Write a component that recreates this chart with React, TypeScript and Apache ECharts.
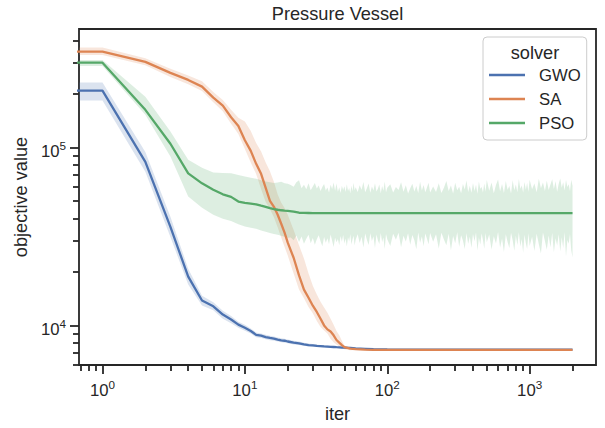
import React, { useEffect, useRef } from "react";
import * as echarts from "echarts";

// ---- data ----
// 0.5 stands for iteration 0, which a log axis cannot place (it is clipped off the left edge)
const ITERS = [0.5, 1, 2, 3, 4, 5, 6, 7, 8, 9, 10, 11, 12, 13, 14, 15, 16, 17, 18, 19, 20,
  22, 24, 26, 28, 30, 32, 34, 36, 38, 40, 42, 44, 46, 48, 50, 55, 60, 70, 80, 100, 200, 500, 1000, 2000];

const GWO_MEAN = [209000, 209000, 83000, 35800, 18800, 13800, 12800, 11500, 10800, 10100, 9700,
  9300, 8850, 8750, 8600, 8500, 8430, 8330, 8250, 8200, 8120,
  8000, 7930, 7830, 7750, 7720, 7680, 7650, 7620, 7600, 7580, 7560, 7540, 7530, 7510, 7500,
  7470, 7420, 7390, 7360, 7340, 7310, 7300, 7300, 7300];
const GWO_LOW = [184000, 184000, 73000, 31400, 17000, 12950, 12150, 10900, 10300, 9700, 9330,
  9000, 8580, 8490, 8350, 8260, 8200, 8110, 8040, 8000, 7930,
  7820, 7760, 7680, 7610, 7590, 7560, 7540, 7520, 7500, 7490, 7480, 7470, 7460, 7450, 7440,
  7420, 7380, 7360, 7340, 7320, 7290, 7285, 7285, 7285];
const GWO_HIGH = [232000, 232000, 94500, 40800, 20800, 14700, 13500, 12100, 11300, 10500, 10100,
  9620, 9130, 9020, 8860, 8750, 8670, 8560, 8470, 8410, 8320,
  8190, 8110, 8000, 7900, 7860, 7810, 7770, 7730, 7700, 7680, 7650, 7620, 7600, 7570, 7560,
  7520, 7460, 7420, 7380, 7360, 7320, 7315, 7315, 7315];

const SA_MEAN = [346000, 346000, 303000, 263000, 240000, 220000, 191000, 172000, 148000, 132000, 110000,
  95800, 81000, 71200, 59400, 50200, 46400, 41900, 37300, 33200, 29200,
  24000, 19100, 15900, 14300, 12900, 11900, 10900, 10000, 9500, 9250, 8800, 8280, 8000, 7750, 7550,
  7400, 7350, 7300, 7290, 7280, 7280, 7280, 7280, 7280];
const SA_LOW = [331000, 331000, 290000, 249000, 227000, 208000, 180000, 160000, 136000, 119000, 98000,
  82500, 71000, 58500, 49400, 45200, 40500, 35600, 31200, 27600, 24700,
  19600, 15900, 14200, 12700, 11700, 10600, 9800, 9350, 9000, 8400, 8050, 7800, 7600, 7450, 7350,
  7260, 7270, 7260, 7260, 7260, 7260, 7260, 7260, 7260];
const SA_HIGH = [365000, 365000, 318000, 277000, 254000, 236000, 205000, 185000, 163000, 147000, 140000,
  124000, 106000, 95000, 82500, 73500, 64000, 54500, 49000, 45700, 41900,
  34400, 28200, 23800, 19600, 16700, 14900, 13600, 12600, 11800, 10900, 10100, 9300, 8800, 8200, 7700,
  7450, 7380, 7320, 7300, 7300, 7300, 7300, 7300, 7300];

const PSO_MEAN = [300000, 300000, 163000, 105000, 71600, 62900, 57900, 54600, 52800, 49700, 48900,
  48400, 47900, 47100, 46400, 45600, 45100, 44700, 44400, 44200, 44100,
  43600, 43000, 42900, 42850, 42800, 42800, 42800, 42800, 42800, 42800, 42800, 42800, 42800, 42800, 42800,
  42800, 42800, 42800, 42800, 42800, 42800, 42800, 42800, 42800];

const PSO_BAND_ITERS = [0.5, 1, 2, 3, 4, 5, 6, 7, 8, 9, 10, 11, 12, 13, 14, 15, 16, 17, 18, 19, 20,
  21, 22, 23, 24, 25, 26, 27, 28, 29, 30, 31, 32, 33, 34, 35, 36, 37, 38, 39, 40,
  41, 42, 43, 44, 45, 46, 47, 48, 49, 50, 51, 52, 53, 54, 55, 56, 57, 58, 59, 60,
  62, 64, 66, 68, 70, 72, 74, 76, 78, 80, 82, 84, 86, 88, 90, 92, 94, 96, 98, 100,
  105, 110, 115, 120, 125, 130, 135, 140, 145, 150, 155, 160, 165, 170, 175, 180, 185, 190, 195, 200,
  210, 220, 230, 240, 250, 260, 270, 280, 290, 300, 310, 320, 330, 340, 350, 360, 370, 380, 390, 400,
  410, 420, 430, 440, 450, 460, 470, 480, 490, 500,
  520, 540, 560, 580, 600, 620, 640, 660, 680, 700, 720, 740, 760, 780, 800, 820, 840, 860, 880, 900,
  920, 940, 960, 980, 1000,
  1040, 1080, 1120, 1160, 1200, 1240, 1280, 1320, 1360, 1400, 1440, 1480, 1520, 1560, 1600, 1640, 1680,
  1720, 1760, 1800, 1840, 1880, 1920, 1960, 2000];

const PSO_HIGH = [311000, 311000, 193000, 123000, 85300, 76900, 72400, 72000, 71800, 70200, 68700,
  67700, 66700, 65500, 64400, 63800, 63100, 63600, 64200, 63000, 62500,
  61500, 60200, 63800, 65500, 59000, 61800, 58200, 62900, 57600, 60400, 63100, 58800, 61200, 56900, 60100, 62400, 57300, 59600, 55800, 61700,
  58400, 63600, 57100, 62800, 56500, 59900, 55600, 61000, 57800, 60600, 56200, 62200, 57000, 59300, 55400, 60900, 56800, 63400, 57500, 59800,
  56300, 61400, 57900, 64100, 56000, 59200, 62700, 55700, 60300, 57400, 63000, 56600, 58900, 61900, 55300, 60800, 57200, 64500, 56100, 59500,
  62100, 55900, 60000, 57700, 63900, 56400, 61300, 55200, 59100, 62600, 56700, 60700, 55500, 64200, 57300, 61600, 56000, 59700, 63300, 55800,
  60400, 56200, 62900, 55600, 59400, 64800, 56900, 61100, 55100, 63500, 57600, 60200, 55400, 62300, 58100, 65200, 56300, 60900, 55700, 63100,
  57000, 61800, 55000, 64400, 58600, 60000, 55900, 62700, 56600, 65700,
  57200, 63600, 55300, 61500, 66100, 56800, 62400, 55600, 64900, 58000, 60800, 55200, 65400, 57500, 62000, 56100, 66500, 58700, 61200, 55800,
  64000, 57900, 63200, 56400, 65900,
  58300, 62800, 56000, 66800, 59000, 63700, 56900, 65100, 57700, 61900, 66300, 58500, 64600, 56500, 62500, 67000, 59400,
  63900, 57300, 65600, 60100, 62200, 57000, 66000, 61000];

const PSO_LOW = [287000, 287000, 153000, 89000, 53000, 45800, 41900, 39800, 38700, 37000, 36000,
  35400, 34900, 34200, 33600, 33100, 32700, 32300, 31900, 31500, 31100,
  31200, 30100, 32000, 29400, 31600, 28800, 30700, 32300, 29000, 31000, 28400, 30500, 32100, 29700, 27900, 31400, 29200, 30900, 28600, 32400,
  29900, 27600, 31100, 29300, 30600, 28200, 31800, 29500, 32200, 28900, 30800, 27800, 31300, 29600, 32500, 28500, 30400, 31900, 28100, 30300,
  32600, 29100, 31500, 27400, 32900, 30200, 28300, 33000, 29800, 31700, 27200, 32400, 30000, 28700, 33100, 29400, 31200, 26900, 32700, 30500,
  28000, 32800, 30300, 33200, 27500, 31900, 29600, 33000, 28400, 32200, 30100, 26800, 33300, 29200, 31600, 27900, 32900, 30700, 28600, 33100,
  29500, 32500, 27100, 33200, 30400, 28200, 32800, 26500, 31800, 29000, 33400, 27700, 32100, 30000, 26900, 33000, 28800, 31500, 27300, 32700,
  29700, 33300, 26400, 31200, 28500, 32900, 30200, 27000, 33100, 29300,
  32400, 26700, 31700, 28900, 33500, 27400, 30800, 25900, 32600, 29400, 27200, 33200, 30100, 26300, 31900, 28300, 33400, 27800, 30600, 25600,
  32300, 29100, 26900, 33000, 28000,
  31500, 26200, 32800, 28600, 25400, 33300, 29800, 26600, 32000, 27500, 33100, 25800, 30900, 28100, 32500, 26000, 31300,
  27200, 33400, 24500, 30200, 28800, 32700, 26400, 24200];

const SOLVERS = ["GWO", "SA", "PSO"];
const X_MAJOR = [1, 10, 100, 1000];
const X_MINOR = [0.7, 0.8, 0.9, 2, 3, 4, 5, 6, 7, 8, 9, 20, 30, 40, 50, 60, 70, 80, 90,
  200, 300, 400, 500, 600, 700, 800, 900, 2000];
const Y_MAJOR = [10000, 100000];
const Y_MINOR = [6000, 7000, 8000, 9000, 20000, 30000, 40000, 50000, 60000, 70000, 80000, 90000,
  200000, 300000, 400000];

// ---- style ----
const FONT = "'Liberation Sans', Arial, sans-serif";
const INK = "#262626";
const COLORS = ["#4c72b0", "#dd8452", "#55a868"];
const BAND = ["rgba(76,114,176,0.2)", "rgba(221,132,82,0.2)", "rgba(85,168,104,0.2)"];
const X_MIN = 0.684, X_MAX = 2924;
const Y_MIN = 5990, Y_MAX = 464000;
const LABEL_SIZE = 18.2;
const TICK_SIZE = 16.7;

const pow10Label = (v: number) => `{b|10}{s|${Math.round(Math.log10(v))}}`;
const RICH = {
  b: { fontSize: TICK_SIZE, fontFamily: FONT, color: INK, lineHeight: 24 },
  s: { fontSize: 11.7, fontFamily: FONT, color: INK, lineHeight: 11, verticalAlign: "top" as const },
};

function band(name: string, iters: number[], low: number[], high: number[], color: string) {
  return {
    name: name + " CI", type: "custom", coordinateSystem: "cartesian2d",
    silent: true, z: 1, clip: true,
    encode: { x: 0, y: [1, 2] },
    data: iters.map((x, i) => [x, low[i], high[i]]),
    renderItem: (params: any, api: any) => {
      if (params.dataIndex !== 0) return null;
      const pts: number[][] = [];
      for (let i = 0; i < iters.length; i++) pts.push(api.coord([iters[i], high[i]]));
      for (let i = iters.length - 1; i >= 0; i--) pts.push(api.coord([iters[i], low[i]]));
      return { type: "polygon", shape: { points: pts }, style: { fill: color, stroke: "none" } };
    },
  };
}

function meanLine(name: string, iters: number[], vals: number[], color: string) {
  return {
    name, type: "line", symbol: "none", z: 3, color,
    lineStyle: { color, width: 2.3 },
    data: iters.map((x, i) => [x, vals[i]]),
  };
}

export default function App() {
  const ref = useRef<HTMLDivElement>(null);
  useEffect(() => {
    const chart = echarts.init(ref.current!, null, { renderer: "svg" });
    const tickStyle = { color: INK, width: 1.8 };
    const option: any = {
      animation: false,
      backgroundColor: "#ffffff",
      grid: {
        left: 79, top: 29, right: 9, bottom: 63, show: true,
        borderColor: INK, borderWidth: 1.8, backgroundColor: "transparent",
      },
      graphic: [
        {
          type: "text", x: 337.5, y: 13.5, z: 100,
          style: { text: "Pressure Vessel", fontSize: LABEL_SIZE, fontFamily: FONT, fill: INK, align: "center", verticalAlign: "middle" },
        },
        {
          type: "text", x: 535, y: 53, z: 100,
          style: { text: "solver", fontSize: LABEL_SIZE, fontFamily: FONT, fill: INK, align: "center", verticalAlign: "middle" },
        },
      ],
      legend: {
        data: SOLVERS.map((name) => ({ name, icon: "rect" })),
        orient: "vertical", left: 483, top: 37,
        padding: [29, 6, 8, 6], itemWidth: 36, itemHeight: 2.3, itemGap: 6,
        backgroundColor: "rgba(255,255,255,0.8)", borderColor: "#cccccc", borderWidth: 1, borderRadius: 4,
        selectedMode: false,
        textStyle: { fontSize: TICK_SIZE, fontFamily: FONT, color: INK, lineHeight: 18, padding: [0, 0, 0, 9] },
      },
      xAxis: [
        {
          type: "log", logBase: 10, min: X_MIN, max: X_MAX, position: "bottom",
          axisLine: { show: false }, splitLine: { show: false },
          axisTick: { show: true, length: 9, lineStyle: tickStyle, customValues: X_MAJOR },
          axisLabel: { customValues: X_MAJOR, formatter: pow10Label, rich: RICH, margin: 13 },
          name: "iter", nameLocation: "middle", nameGap: 40,
          nameTextStyle: { fontSize: LABEL_SIZE, fontFamily: FONT, color: INK },
        },
        {
          type: "log", logBase: 10, min: X_MIN, max: X_MAX, position: "bottom",
          axisLine: { show: false }, splitLine: { show: false },
          axisTick: { show: true, length: 6, lineStyle: tickStyle, customValues: X_MINOR },
          axisLabel: { show: false },
        },
      ],
      yAxis: [
        {
          type: "log", logBase: 10, min: Y_MIN, max: Y_MAX, position: "left",
          axisLine: { show: false }, splitLine: { show: false },
          axisTick: { show: true, length: 9, lineStyle: tickStyle, customValues: Y_MAJOR },
          axisLabel: { customValues: Y_MAJOR, formatter: pow10Label, rich: RICH, margin: 13, padding: [8, 0, 0, 0] },
          name: "objective value", nameLocation: "middle", nameGap: 47,
          nameTextStyle: { fontSize: LABEL_SIZE, fontFamily: FONT, color: INK },
        },
        {
          type: "log", logBase: 10, min: Y_MIN, max: Y_MAX, position: "left",
          axisLine: { show: false }, splitLine: { show: false },
          axisTick: { show: true, length: 6, lineStyle: tickStyle, customValues: Y_MINOR },
          axisLabel: { show: false },
        },
      ],
      series: [
        band("GWO", ITERS, GWO_LOW, GWO_HIGH, BAND[0]),
        band("SA", ITERS, SA_LOW, SA_HIGH, BAND[1]),
        band("PSO", PSO_BAND_ITERS, PSO_LOW, PSO_HIGH, BAND[2]),
        meanLine("GWO", ITERS, GWO_MEAN, COLORS[0]),
        meanLine("SA", ITERS, SA_MEAN, COLORS[1]),
        meanLine("PSO", ITERS, PSO_MEAN, COLORS[2]),
      ],
    };
    chart.setOption(option);
    return () => chart.dispose();
  }, []);
  return <div ref={ref} style={{ position: "absolute", left: 0, top: 0, width: 605, height: 428 }} />;
}
